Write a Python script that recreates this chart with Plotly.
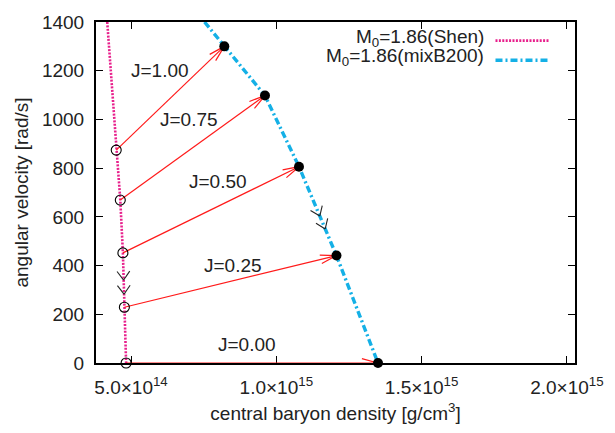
import math
import plotly.graph_objects as go

# ---- data -------------------------------------------------------------
j_labels = ["J=1.00", "J=0.75", "J=0.50", "J=0.25", "J=0.00"]

# initial (Shen EOS) configurations: central density, angular velocity
shen_rho = [4.49e14, 4.63e14, 4.72e14, 4.77e14, 4.83e14]
shen_omega = [874, 669, 452, 229, 0]

# final (mixB200 EOS) configurations
mix_rho = [8.21e14, 9.61e14, 1.078e15, 1.207e15, 1.35e15]
mix_omega = [1300, 1098, 806, 441, 0]

# sequence curves (top end of each curve plus the configurations)
shen_curve_rho = [4.18e14] + shen_rho
shen_curve_omega = [1400] + shen_omega
mix_curve_rho = [7.53e14] + mix_rho
mix_curve_omega = [1400] + mix_omega

# label positions for the J annotations
label_rho = [6.0e14, 7.0e14, 8.0e14, 8.5e14, 9.0e14]
label_omega = [1200, 1000, 745, 400, 76]

x_tickvals = [5e14, 1e15, 1.5e15, 2e15]
x_ticktext = ["5.0×10<sup>14</sup>", "1.0×10<sup>15</sup>",
              "1.5×10<sup>15</sup>", "2.0×10<sup>15</sup>"]
y_tickvals = [0, 200, 400, 600, 800, 1000, 1200, 1400]

# ---- geometry helpers (pixel <-> data) --------------------------------
W, H = 615, 433
ML, MR, MT, MB = 96, 31, 15, 70
PW, PH = W - ML - MR, H - MT - MB
X0, X1 = 3.794e14, 2.028e15
Y0, Y1 = 0, 1400


def to_px(x, y):
    return (ML + (x - X0) / (X1 - X0) * PW, MT + (Y1 - y) / (Y1 - Y0) * PH)


def to_data(px, py):
    return (X0 + (px - ML) / PW * (X1 - X0), Y1 - (py - MT) / PH * (Y1 - Y0))


def head(tip, back, length, half_angle):
    """Two barbs of an open arrow head at `tip`, pointing away from `back`."""
    tx, ty = to_px(*tip)
    bx, by = to_px(*back)
    dx, dy = bx - tx, by - ty
    n = math.hypot(dx, dy)
    dx, dy = dx / n, dy / n
    xs, ys = [], []
    for s in (1, -1):
        a = s * math.radians(half_angle)
        ex = tx + length * (dx * math.cos(a) - dy * math.sin(a))
        ey = ty + length * (dx * math.sin(a) + dy * math.cos(a))
        p = to_data(ex, ey)
        xs += [p[0], tip[0], None]
        ys += [p[1], tip[1], None]
    return xs, ys


fig = go.Figure()

PINK = "#e8208c"
BLUE = "#14b0e6"
RED = "#ff1a1a"
TXT = "#222222"

fig.add_trace(go.Scatter(x=shen_curve_rho, y=shen_curve_omega, mode="lines",
                         line=dict(color=PINK, width=2.6, dash="2px,1.4px"),
                         cliponaxis=False, showlegend=False))
fig.add_trace(go.Scatter(x=mix_curve_rho, y=mix_curve_omega, mode="lines",
                         line=dict(color=BLUE, width=3.4, dash="7px,3px,2px,3px"),
                         cliponaxis=False, showlegend=False))

# transition arrows
ax, ay = [], []
for i in range(len(j_labels)):
    ax += [shen_rho[i], mix_rho[i], None]
    ay += [shen_omega[i], mix_omega[i], None]
    hx, hy = head((mix_rho[i], mix_omega[i]), (shen_rho[i], shen_omega[i]), 17, 15)
    ax += hx
    ay += hy
fig.add_trace(go.Scatter(x=ax, y=ay, mode="lines", line=dict(color=RED, width=1.2),
                         cliponaxis=False, showlegend=False))

# direction chevrons along both sequences (between J=0.50 and J=0.25)
cx, cy = [], []
for rr, oo, fracs in ((shen_rho, shen_omega, (0.5, 0.76)),
                      (mix_rho, mix_omega, (0.555, 0.70))):
    a = (rr[2], oo[2])
    b = (rr[3], oo[3])
    for f in fracs:
        tip = (a[0] + f * (b[0] - a[0]), a[1] + f * (b[1] - a[1]))
        hx, hy = head(tip, a, 11, 36)
        cx += hx
        cy += hy
fig.add_trace(go.Scatter(x=cx, y=cy, mode="lines", line=dict(color=TXT, width=1.1),
                         showlegend=False))

fig.add_trace(go.Scatter(x=shen_rho, y=shen_omega, mode="markers",
                         marker=dict(symbol="circle-open", size=10, color="black",
                                     line=dict(width=1.1)),
                         cliponaxis=False, showlegend=False))
fig.add_trace(go.Scatter(x=mix_rho, y=mix_omega, mode="markers",
                         marker=dict(symbol="circle", size=10, color="black"),
                         cliponaxis=False, showlegend=False))

FONT = "Liberation Sans, Arial, sans-serif"
FS = 19

for lab, lx, ly in zip(j_labels, label_rho, label_omega):
    fig.add_annotation(x=lx, y=ly, text=lab, showarrow=False,
                       font=dict(family=FONT, size=FS, color=TXT))

# key, text on the left and line sample on the right
key_items = [("M<sub>0</sub>=1.86(Shen)", PINK, 2.6, "2px,1.4px", 31),
             ("M<sub>0</sub>=1.86(mixB200)", BLUE, 3.4, "7px,3px,2px,3px", 51)]
for text, col, wid, dash, py in key_items:
    fig.add_annotation(xref="paper", yref="paper", x=(493 - ML) / PW,
                       y=1 - (py - MT) / PH, text=text, showarrow=False,
                       xanchor="right", yanchor="middle",
                       font=dict(family=FONT, size=FS, color=TXT))
    yy = 1 - (py + 3 - MT) / PH
    fig.add_shape(type="line", xref="paper", yref="paper",
                  x0=(503 - ML) / PW, x1=(558 - ML) / PW, y0=yy, y1=yy,
                  line=dict(color=col, width=wid, dash=dash))

axis_common = dict(showline=True, linecolor="black", linewidth=2, mirror="ticks",
                   ticks="inside", ticklen=7, tickwidth=1.4, tickcolor="black",
                   showgrid=False, zeroline=False, layer="below traces",
                   tickfont=dict(family=FONT, size=FS, color=TXT),
                   title_font=dict(family=FONT, size=FS, color=TXT))

fig.update_xaxes(range=[X0, X1], tickvals=x_tickvals, ticktext=x_ticktext,
                 title_text="central baryon density [g/cm<sup>3</sup>]",
                 title_standoff=10, ticklabelstandoff=6, **axis_common)
fig.update_yaxes(range=[Y0, Y1], tickvals=y_tickvals,
                 title_text="angular velocity [rad/s]",
                 title_standoff=8, ticklabelstandoff=6, **axis_common)

fig.update_layout(width=W, height=H, margin=dict(l=ML, r=MR, t=MT, b=MB),
                  plot_bgcolor="white", paper_bgcolor="white", showlegend=False)

fig.write_html("out.html")
